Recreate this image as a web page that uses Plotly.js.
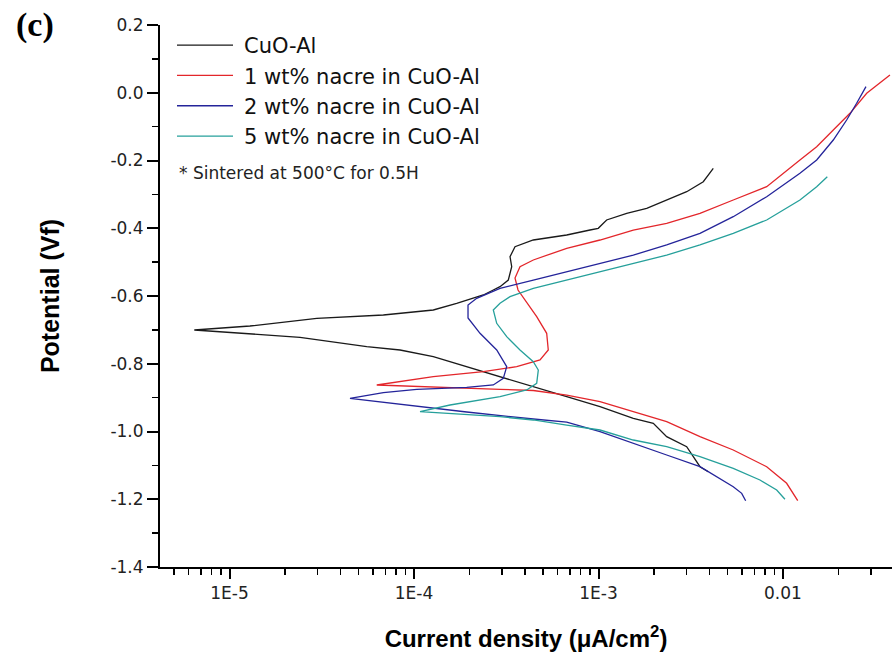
<!DOCTYPE html>
<html>
<head>
<meta charset="utf-8">
<script src="https://cdn.plot.ly/plotly-3.0.1.min.js"></script>
<style>
html,body{margin:0;padding:0;background:#fff;}
#chart{width:892px;height:664px;}
</style>
</head>
<body>
<div id="chart"></div>
<script>
// ---- Data (current density in µA/cm², potential in Vf) ----
const seriesNames = ["CuO-Al", "1 wt% nacre in CuO-Al", "2 wt% nacre in CuO-Al", "5 wt% nacre in CuO-Al"];

const cuoAlCurrent = [0.003936,0.003549,0.003265,0.003006,0.002342,0.001982,0.001544,0.001019,6.725e-4,4.432e-4,2.925e-4,1.93e-4,1.272e-4,8.4e-5,5.54e-5,2.41e-5,1.14e-5,7.52e-6,6.44e-6,1.29e-5,2.97e-5,6.82e-5,1.272e-4,1.703e-4,2.375e-4,2.69e-4,2.925e-4,3.244e-4,3.385e-4,3.314e-4,3.527e-4,4.432e-4,6.725e-4,8.995e-4,9.97e-4,0.001107,0.001422,0.001825,0.002342,0.003006,0.003698,0.004107,0.00419];
const cuoAlPotential = [-1.1187,-1.1039,-1.0744,-1.0449,-1.0153,-0.9758,-0.961,-0.9268,-0.8973,-0.8677,-0.8382,-0.8087,-0.7792,-0.7594,-0.7497,-0.7219,-0.7107,-0.7033,-0.7004,-0.6886,-0.6658,-0.6561,-0.6413,-0.6216,-0.597,-0.5823,-0.5725,-0.5528,-0.5135,-0.484,-0.4545,-0.4347,-0.4199,-0.4052,-0.4002,-0.3756,-0.3559,-0.3411,-0.3166,-0.2921,-0.2626,-0.228,-0.223];

const nacre1Current = [0.01202,0.01137,0.01047,0.008161,0.005376,0.003549,0.002342,0.001544,0.001019,6.725e-4,4.432e-4,2.925e-4,1.272e-4,7.41e-5,6.28e-5,1.272e-4,2.375e-4,3.603e-4,4.818e-4,5.343e-4,5.237e-4,4.624e-4,4.046e-4,3.662e-4,3.527e-4,3.754e-4,4.432e-4,6.725e-4,0.001019,0.001544,0.002342,0.003549,0.005376,0.008161,0.01236,0.01523,0.01874,0.02307,0.02843,0.03355,0.03801];
const nacre1Potential = [-1.2043,-1.1825,-1.1529,-1.1039,-1.0546,-1.0153,-0.9711,-0.9416,-0.912,-0.8923,-0.879,-0.8754,-0.8695,-0.8657,-0.8627,-0.8382,-0.8235,-0.8087,-0.7889,-0.7594,-0.7101,-0.6611,-0.6177,-0.5823,-0.5469,-0.5135,-0.4937,-0.4592,-0.4347,-0.4052,-0.3854,-0.3559,-0.3166,-0.2773,-0.1985,-0.1593,-0.11,-0.0607,-0.0016,0.0279,0.0524];

const nacre2Current = [0.006278,0.005974,0.005376,0.004372,0.003549,0.002342,0.001544,0.001019,6.725e-4,4.432e-4,1.93e-4,8.4e-5,4.497e-5,6.82e-5,1.034e-4,1.93e-4,2.69e-4,3.048e-4,3.18e-4,2.807e-4,2.279e-4,1.962e-4,1.962e-4,2.186e-4,2.925e-4,4.432e-4,6.725e-4,0.001019,0.001544,0.002342,0.003549,0.005376,0.008161,0.01236,0.01523,0.01874,0.02214,0.02508,0.02818];
const nacre2Potential = [-1.2043,-1.1825,-1.1629,-1.1334,-1.1039,-1.0694,-1.0348,-1.0006,-0.9720,-0.9631,-0.9424,-0.9203,-0.902,-0.8855,-0.8754,-0.8695,-0.8627,-0.843,-0.8087,-0.7594,-0.7101,-0.6649,-0.6266,-0.6068,-0.5773,-0.5528,-0.5283,-0.5035,-0.479,-0.4494,-0.4149,-0.3659,-0.3069,-0.2378,-0.1985,-0.1395,-0.0804,-0.0311,0.0179];

const nacre5Current = [0.01025,0.009245,0.0075,0.005376,0.003549,0.002342,0.001544,0.001019,6.725e-4,4.432e-4,2.925e-4,1.93e-4,1.272e-4,1.078e-4,1.567e-4,2.925e-4,4.081e-4,4.624e-4,4.717e-4,4.432e-4,3.754e-4,3.18e-4,2.807e-4,2.69e-4,2.925e-4,3.314e-4,4.432e-4,6.725e-4,0.001019,0.001544,0.002342,0.003549,0.005376,0.008161,0.01236,0.01523,0.01739];
const nacre5Potential = [-1.2001,-1.1727,-1.1432,-1.1086,-1.0744,-1.0449,-1.0251,-0.9956,-0.9810,-0.966,-0.9563,-0.9498,-0.9445,-0.9416,-0.9218,-0.8973,-0.8775,-0.8577,-0.8185,-0.794,-0.7594,-0.7201,-0.6806,-0.6413,-0.6216,-0.6021,-0.5773,-0.5528,-0.5283,-0.5035,-0.479,-0.4494,-0.4149,-0.3756,-0.3166,-0.2773,-0.2478];

const xTickValues = [1e-5, 1e-4, 1e-3, 0.01];
const xTickLabels = ["1E-5", "1E-4", "1E-3", "0.01"];
const yTickValues = [-1.4, -1.2, -1.0, -0.8, -0.6, -0.4, -0.2, 0.0, 0.2];
const yTickLabels = ["-1.4", "-1.2", "-1.0", "-0.8", "-0.6", "-0.4", "-0.2", "0.0", "0.2"];
const noteText = "* Sintered at 500\u00B0C for 0.5H";
const panelLabel = "(c)";

// minor tick positions on the log axis (2..9 of each decade)
const xMinorTicks = [];
for (let e = -6; e <= -2; e++) {
  for (let m = 2; m <= 9; m++) xMinorTicks.push(m * Math.pow(10, e));
}
const yMinorTicks = [-1.3, -1.1, -0.9, -0.7, -0.5, -0.3, -0.1, 0.1];

const colors = ["#1a1a1a", "#e3262b", "#24249a", "#26a09b"];
const xs = [cuoAlCurrent, nacre1Current, nacre2Current, nacre5Current];
const ys = [cuoAlPotential, nacre1Potential, nacre2Potential, nacre5Potential];

const traces = seriesNames.map((name, i) => ({
  type: "scatter",
  mode: "lines",
  name: name,
  x: xs[i],
  y: ys[i],
  line: {color: colors[i], width: 1.3},
  hoverinfo: "x+y+name"
}));

const wide = "'DejaVu Sans', Arial, sans-serif";
const arial = "Arial, 'Liberation Sans', sans-serif";
const layout = {
  width: 892,
  height: 664,
  margin: {l: 160, r: 0, t: 25, b: 97},
  paper_bgcolor: "#ffffff",
  plot_bgcolor: "#ffffff",
  showlegend: true,
  legend: {
    x: 0.0164, y: 1.0, xanchor: "left", yanchor: "top",
    xref: "paper", yref: "paper",
    bgcolor: "rgba(0,0,0,0)",
    borderwidth: 0,
    font: {family: wide, size: 21, color: "#111"},
    itemwidth: 62,
    tracegroupgap: 0
  },
  xaxis: {
    type: "log",
    range: [-5.377, -1.409],
    tickmode: "array",
    tickvals: xTickValues,
    ticktext: xTickLabels,
    ticks: "outside",
    ticklen: 10,
    tickwidth: 2,
    tickcolor: "#000",
    showline: true,
    linecolor: "#000",
    linewidth: 2,
    showgrid: false,
    zeroline: false,
    minor: {tickmode: "array", tickvals: xMinorTicks, ticks: "outside", ticklen: 6, tickwidth: 1.5, tickcolor: "#000", showgrid: false},
    tickfont: {family: wide, size: 17, color: "#222"},
    title: {text: "Current density (\u03BCA/cm<sup>2</sup>)", font: {family: arial, size: 24, color: "#000", weight: "bold"}, standoff: 28}
  },
  yaxis: {
    range: [-1.4, 0.2],
    tickmode: "array",
    tickvals: yTickValues,
    ticktext: yTickLabels,
    ticks: "outside",
    ticklen: 11,
    tickwidth: 2,
    tickcolor: "#000",
    showline: true,
    linecolor: "#000",
    linewidth: 2,
    showgrid: false,
    zeroline: false,
    minor: {tickmode: "array", tickvals: yMinorTicks, ticks: "outside", ticklen: 6, tickwidth: 1.5, tickcolor: "#000", showgrid: false},
    tickfont: {family: wide, size: 17, color: "#222"},
    title: {text: "Potential (Vf)", font: {family: arial, size: 25, color: "#000", weight: "bold"}, standoff: 44}
  },
  annotations: [
    {text: noteText, xref: "paper", yref: "paper", x: 0.023, y: 0.727, xanchor: "left", yanchor: "middle", showarrow: false, font: {family: wide, size: 17, color: "#222"}},
    {text: panelLabel, xref: "paper", yref: "paper", x: -0.2, y: 1.0, xanchor: "left", yanchor: "middle", showarrow: false, font: {family: "'Times New Roman', 'Liberation Serif', serif", size: 34, color: "#000", weight: "bold"}}
  ]
};

Plotly.newPlot("chart", traces, layout, {displayModeBar: false, staticPlot: true}).then(() => {
  // lengthen legend sample lines to match the reference legend
  document.querySelectorAll("#chart .legend .legendlines path").forEach(p => p.setAttribute("d", "M5,0h56"));
});
</script>
</body>
</html>
